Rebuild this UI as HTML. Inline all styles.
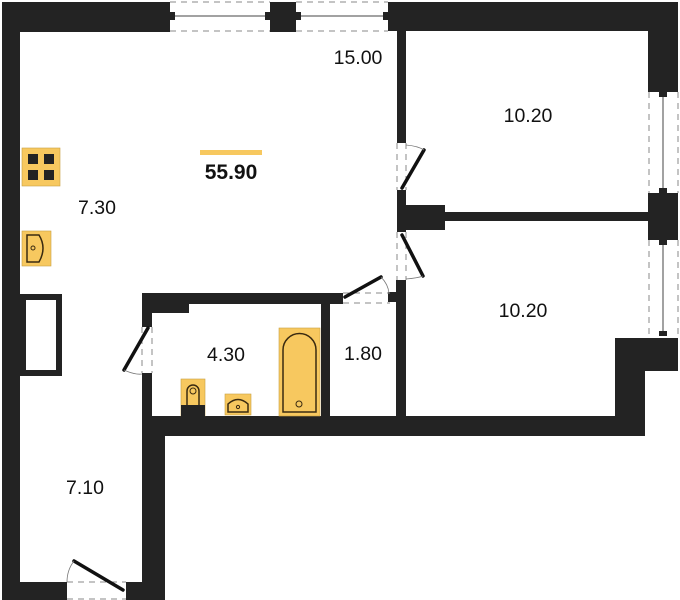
<!DOCTYPE html>
<html><head><meta charset="utf-8"><style>
html,body{margin:0;padding:0;background:#fff;}
svg{display:block;}
text{font-family:"Liberation Sans",sans-serif;fill:#111;}
</style></head><body>
<svg width="680" height="600" viewBox="0 0 680 600" xmlns="http://www.w3.org/2000/svg">
<g fill="#232323">
<rect x="2" y="2" width="18" height="598"/>
<rect x="2" y="2" width="168" height="30"/>
<rect x="270" y="2" width="26" height="30"/>
<rect x="388" y="2" width="290" height="29"/>
<rect x="648" y="2" width="30" height="90"/>
<rect x="648" y="193" width="30" height="47"/>
<rect x="615" y="338" width="63" height="33"/>
<rect x="615" y="338" width="30" height="98"/>
<rect x="397" y="31" width="9" height="112"/>
<rect x="397" y="190" width="9" height="42"/>
<rect x="397" y="205" width="48" height="25"/>
<rect x="445" y="212" width="204" height="9"/>
<rect x="396" y="280" width="10" height="140"/>
<rect x="388" y="292" width="9" height="10"/>
<rect x="142" y="293" width="201" height="11"/>
<rect x="142" y="293" width="10" height="34"/>
<rect x="142" y="373" width="10" height="50"/>
<rect x="152" y="304" width="37" height="9"/>
<rect x="321" y="304" width="9" height="114"/>
<rect x="142" y="416" width="503" height="20"/>
<rect x="142" y="416" width="23" height="184"/>
<rect x="2" y="582" width="65" height="18"/>
<rect x="126" y="582" width="39" height="18"/>
<path d="M20 294h42v82h-42z M26 300v70h30v-70z" fill-rule="evenodd"/>
</g>
<g stroke="#888" stroke-width="1" stroke-dasharray="6,5" fill="none">
<line x1="170" y1="2" x2="270" y2="2"/><line x1="170" y1="31" x2="270" y2="31"/>
<line x1="296" y1="2" x2="388" y2="2"/><line x1="296" y1="31" x2="388" y2="31"/>
<line x1="649" y1="92" x2="649" y2="193"/><line x1="678" y1="92" x2="678" y2="193"/>
<line x1="649" y1="240" x2="649" y2="336"/><line x1="678" y1="240" x2="678" y2="336"/>
<line x1="397" y1="143" x2="397" y2="190"/><line x1="406" y1="143" x2="406" y2="190"/>
<line x1="397" y1="232" x2="397" y2="280"/><line x1="406" y1="232" x2="406" y2="280"/>
<line x1="343" y1="293" x2="390" y2="293"/><line x1="343" y1="303" x2="390" y2="303"/>
<line x1="142" y1="327" x2="142" y2="373"/><line x1="152" y1="327" x2="152" y2="373"/>
<line x1="67" y1="582" x2="126" y2="582"/><line x1="67" y1="599" x2="126" y2="599"/>
</g>
<g stroke="#444" stroke-width="1">
<line x1="172" y1="16" x2="268" y2="16"/><line x1="298" y1="16" x2="386" y2="16"/>
<line x1="663" y1="94" x2="663" y2="191"/><line x1="663" y1="242" x2="663" y2="334"/>
</g>
<g fill="#232323">
<rect x="170" y="12" width="5" height="8"/><rect x="265" y="12" width="5" height="8"/>
<rect x="296" y="12" width="5" height="8"/><rect x="383" y="12" width="5" height="8"/>
<rect x="659" y="92" width="8" height="5"/><rect x="659" y="188" width="8" height="5"/>
<rect x="659" y="240" width="8" height="5"/><rect x="659" y="331" width="8" height="5"/>
</g>
<g stroke="#111" stroke-width="3.5" stroke-linecap="round">
<line x1="402" y1="188" x2="424" y2="150"/>
<line x1="402" y1="235" x2="423" y2="276"/>
<line x1="345" y1="297" x2="381" y2="277"/>
<line x1="148" y1="328" x2="124" y2="370"/>
<line x1="123" y1="590" x2="74" y2="561"/>
</g>
<g stroke="#777" stroke-width="0.8" fill="none">
<path d="M406 145 Q418 146 424 150"/>
<path d="M406 279 Q418 278 423 276"/>
<path d="M381 277 Q388 284 389 293"/>
<path d="M124 370 Q135 375 142 374"/>
<path d="M74 561 Q67 570 67 582"/>
</g>
<rect x="22" y="148" width="38" height="38" fill="#f7c85f" stroke="#c9a040" stroke-width="0.6"/>
<g fill="#232323">
<rect x="28" y="154" width="10" height="10"/><rect x="44" y="154" width="10" height="10"/>
<rect x="28" y="170" width="10" height="10"/><rect x="44" y="170" width="10" height="10"/>
</g>
<rect x="22" y="231" width="29" height="35" fill="#f7c85f" stroke="#c9a040" stroke-width="0.6"/>
<path d="M27 235 h12 q8 13 0 27 h-12 z" fill="none" stroke="#3a2a10" stroke-width="1.5"/>
<circle cx="33" cy="248" r="2" fill="none" stroke="#3a2a10" stroke-width="1"/>
<rect x="279" y="328" width="41" height="88" fill="#f7c85f" stroke="#c9a040" stroke-width="0.6"/>
<path d="M283 412 V350 a16 16 0 0 1 33 0 V412 z" fill="none" stroke="#3a2a10" stroke-width="1.5"/>
<circle cx="299" cy="404" r="3" fill="none" stroke="#3a2a10" stroke-width="1"/>
<rect x="181" y="379" width="24" height="37" fill="#f7c85f" stroke="#c9a040" stroke-width="0.6"/>
<path d="M187 405 V391 a6 6 0 0 1 12 0 V405" fill="none" stroke="#3a2a10" stroke-width="1.5"/>
<circle cx="193" cy="391" r="3" fill="none" stroke="#3a2a10" stroke-width="1"/>
<rect x="181" y="405" width="24" height="12" fill="#232323"/>
<rect x="225" y="394" width="26" height="21" fill="#f7c85f" stroke="#c9a040" stroke-width="0.6"/>
<path d="M228 412 V404 q10 -9 20 0 V412 z" fill="none" stroke="#3a2a10" stroke-width="1.5"/>
<circle cx="238" cy="407" r="1.6" fill="none" stroke="#3a2a10" stroke-width="1"/>
<rect x="200" y="150" width="62" height="5" fill="#f7c85f"/>
<text x="231" y="179" font-size="21" font-weight="bold" text-anchor="middle">55.90</text>
<g font-size="19.5" text-anchor="middle">
<text x="358" y="64">15.00</text>
<text x="97" y="214">7.30</text>
<text x="528" y="122">10.20</text>
<text x="523" y="317">10.20</text>
<text x="226" y="361">4.30</text>
<text x="363" y="360">1.80</text>
<text x="85" y="494">7.10</text>
</g>
</svg>
</body></html>
